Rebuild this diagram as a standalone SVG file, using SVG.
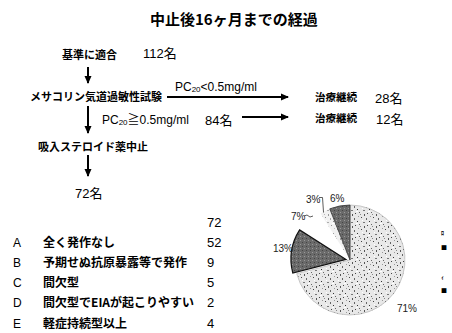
<svg xmlns="http://www.w3.org/2000/svg" width="452" height="333" viewBox="0 0 452 333">
<style>
.t{font-family:"Liberation Sans","Noto Sans CJK JP",sans-serif;fill:#000}
.jp{font-family:"Noto Sans CJK JP","Liberation Sans",sans-serif;font-weight:700;fill:#000}
.n{font-family:"Liberation Sans","Noto Sans CJK JP",sans-serif;font-size:13px;fill:#000}
.ln{stroke:#000;stroke-width:2;fill:none}
.pl{font-family:"Liberation Sans",sans-serif;font-size:10px;fill:#222}
</style>
<defs>
<marker id="ah" markerWidth="8" markerHeight="8" refX="7" refY="4" orient="auto" markerUnits="userSpaceOnUse">
<path d="M0,0.5 L8,4 L0,7.5 Z" fill="#000"/>
</marker>
<pattern id="speck" width="12" height="12" patternUnits="userSpaceOnUse">
<rect width="12" height="12" fill="#e8e8e8"/>
<rect x="1" y="1" width="1" height="1" fill="#444"/>
<rect x="6" y="2" width="1" height="2" fill="#666"/>
<rect x="9" y="5" width="1" height="1" fill="#333"/>
<rect x="3" y="6" width="2" height="1" fill="#777"/>
<rect x="7" y="9" width="1" height="1" fill="#444"/>
<rect x="0" y="10" width="1" height="1" fill="#888"/>
<rect x="10" y="0" width="1" height="1" fill="#999"/>
<rect x="4" y="10" width="1" height="2" fill="#555"/>
<rect x="11" y="8" width="1" height="1" fill="#666"/>
<rect x="2" y="4" width="1" height="1" fill="#fff"/>
<rect x="8" y="7" width="2" height="1" fill="#fff"/>
</pattern>
<pattern id="dark" width="4" height="4" patternUnits="userSpaceOnUse">
<rect width="4" height="4" fill="#6a6a6a"/>
<rect x="0" y="0" width="1" height="1" fill="#999"/>
<rect x="2" y="2" width="1" height="1" fill="#444"/>
</pattern>
</defs>

<g id="title"><text class="jp" x="150" y="25" font-size="15">中止後16ヶ月までの経過</text></g>

<g id="n-start">
<text class="jp" x="62" y="59" font-size="11">基準に適合</text>
<text class="n" x="143" y="58">112名</text>
</g>
<g id="n-test"><text class="jp" x="30" y="101" font-size="11">メサコリン気道過敏性試験</text></g>
<g id="n-cont1">
<text class="jp" x="315" y="101" font-size="10.5">治療継続</text>
<text class="n" x="375" y="103">28名</text>
</g>
<g id="n-cont2">
<text class="jp" x="315" y="122" font-size="10.5">治療継続</text>
<text class="n" x="376" y="124">12名</text>
</g>
<g id="n-stop"><text class="jp" x="38" y="151" font-size="11">吸入ステロイド薬中止</text></g>
<g id="n-72"><text class="n" x="75" y="198">72名</text></g>

<g id="connectors">
<line class="ln" x1="88" y1="67" x2="88" y2="83" marker-end="url(#ah)"/>
<line class="ln" x1="88" y1="106" x2="88" y2="133" marker-end="url(#ah)"/>
<line class="ln" x1="88" y1="155" x2="88" y2="176" marker-end="url(#ah)"/>
<line class="ln" x1="167" y1="97" x2="288" y2="97" marker-end="url(#ah)"/>
<line class="ln" x1="242" y1="117" x2="288" y2="117" marker-end="url(#ah)"/>
<text class="t" x="175" y="91" font-size="12">PC<tspan font-size="8" dy="1">20</tspan><tspan dy="-1">&lt;0.5mg/ml</tspan></text>
<text class="t" x="102" y="124" font-size="12">PC<tspan font-size="8" dy="1">20</tspan><tspan dy="-1">≧0.5mg/ml</tspan></text>
<text class="n" x="205" y="125">84名</text>
</g>

<g id="table">
<text class="n" x="207" y="227">72</text>
<g class="t" font-size="12">
<text x="13" y="247">A</text>
<text x="13" y="267">B</text>
<text x="13" y="287">C</text>
<text x="13" y="307">D</text>
<text x="13" y="328">E</text>
</g>
<g class="jp" font-size="12">
<text x="43" y="247">全く発作なし</text>
<text x="43" y="267">予期せぬ抗原暴露等で発作</text>
<text x="43" y="287">間欠型</text>
<text x="43" y="307">間欠型でEIAが起こりやすい</text>
<text x="43" y="328">軽症持続型以上</text>
</g>
<text class="n" x="207" y="247">52</text>
<text class="n" x="207" y="267">9</text>
<text class="n" x="207" y="287">5</text>
<text class="n" x="207" y="307">2</text>
<text class="n" x="207" y="328">4</text>
</g>

<g id="pie">
<path d="M350,260 L350,205 A55,55 0 1 1 296.73,273.68 Z" fill="url(#speck)" stroke="#aaa" stroke-width="0.6"/>
<path d="M346,259.4 L292.8,273.1 A55,55 0 0 1 299.6,229.9 Z" fill="url(#dark)" stroke="#111" stroke-width="1.2"/>
<path d="M350,260 L303.56,230.53 A55,55 0 0 1 320.53,213.56 Z" fill="#fff"/>
<path d="M350,260 L320.53,213.56 A55,55 0 0 1 329.75,208.86 Z" fill="url(#speck)" opacity="0.6"/>
<path d="M350,260 L329.75,208.86 A55,55 0 0 1 350,205 Z" fill="url(#dark)" stroke="#333" stroke-width="0.8"/>
<text class="pl" x="306" y="203">3%</text>
<path d="M319,197.5 L322.5,197.5 L323.5,212" fill="none" stroke="#333" stroke-width="0.8"/>
<text class="pl" x="330" y="202">6%</text>
<text class="pl" x="291" y="220">7%</text>
<path d="M304,216 L307,215 L310,217 L313,216" fill="none" stroke="#333" stroke-width="0.8"/>
<text class="pl" x="273" y="252" font-size="11">13%</text>
<text class="pl" x="397" y="312" font-size="11">71%</text>
</g>

<g id="legend-fragments" class="jp" font-size="6">
<text x="441" y="235">ﾛ</text>
<text x="441" y="250">■</text>
<text x="441" y="279">ｨ</text>
<text x="441" y="293">■</text>
</g>
</svg>
